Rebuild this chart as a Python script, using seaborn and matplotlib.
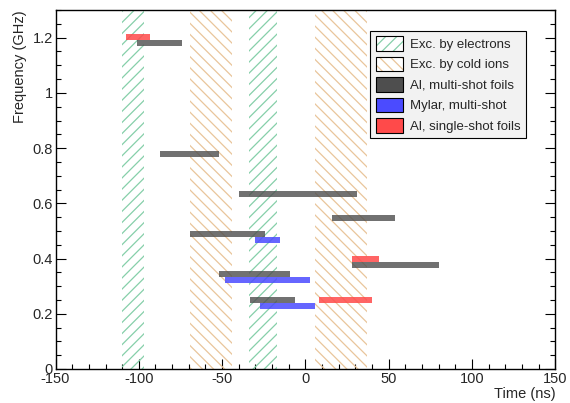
import numpy as np
import matplotlib
matplotlib.use('Agg')
import matplotlib.pyplot as plt
import seaborn as sns
from matplotlib.patches import Patch
from matplotlib.legend_handler import HandlerTuple
from matplotlib.ticker import MultipleLocator

# time windows (ns) of the excitation bands
elec_start = [-110, -34]
elec_end = [-97, -17]
ion_start = [-69, 6]
ion_end = [-44, 37]

# Al, multi-shot foils
al_multi_start = [-101, -87, -40, 16, -69, 28, -52, -33]
al_multi_end = [-74, -52, 31, 54, -24, 80, -9, -6]
al_multi_freq = [1.182, 0.779, 0.635, 0.548, 0.488, 0.378, 0.343, 0.249]

# Mylar, multi-shot
mylar_start = [-30, -48, -27]
mylar_end = [-15, 3, 6]
mylar_freq = [0.468, 0.323, 0.228]

# Al, single-shot foils
al_single_start = [-108, 28, 8]
al_single_end = [-93, 44, 40]
al_single_freq = [1.203, 0.398, 0.249]

bar_h = 0.022

sns.set_style('ticks')
plt.rcParams['font.family'] = ['Liberation Sans', 'DejaVu Sans']
plt.rcParams['hatch.linewidth'] = 0.9
plt.rcParams['axes.unicode_minus'] = False

fig = plt.figure(figsize=(5.7, 4.03), dpi=100)
ax = fig.add_axes([0.0974, 0.0844, 0.877, 0.8906])

green = '#86cfa9'
orange = '#e9c59b'
grey = '#4e4e4e'
blue = '#4b4bff'
red = '#ff4a4a'

for s, e in zip(elec_start, elec_end):
    ax.axvspan(s, e, fill=False, edgecolor=green, lw=0, hatch='///')
for s, e in zip(ion_start, ion_end):
    ax.axvspan(s, e, fill=False, edgecolor=orange, lw=0, hatch='\\\\\\')

def draw(starts, ends, freqs, color, alpha):
    starts = np.array(starts)
    ends = np.array(ends)
    ax.barh(freqs, ends - starts, left=starts, height=bar_h,
            color=color, alpha=alpha, lw=0)

draw(al_multi_start, al_multi_end, al_multi_freq, grey, 0.8)
draw(mylar_start, mylar_end, mylar_freq, blue, 0.85)
draw(al_single_start, al_single_end, al_single_freq, red, 0.85)

ax.set_xlim(-150, 150)
ax.set_ylim(0, 1.3)
ax.xaxis.set_major_locator(MultipleLocator(50))
ax.xaxis.set_minor_locator(MultipleLocator(10))
ax.yaxis.set_minor_locator(MultipleLocator(0.05))
ax.set_yticks([0, 0.2, 0.4, 0.6, 0.8, 1.0, 1.2])
ax.set_yticklabels(['0', '0.2', '0.4', '0.6', '0.8', '1', '1.2'])
ax.tick_params(which='both', direction='in', top=False, right=True,
               labelsize=10.5, color='black', width=0.8)
ax.tick_params(which='major', length=7, pad=2)
ax.tick_params(which='minor', length=3.5)
for sp in ax.spines.values():
    sp.set_color('black')
    sp.set_linewidth(1)

ax.set_xlabel('Time (ns)', fontsize=10.5, loc='right', labelpad=1)
ax.set_ylabel('Frequency (GHz)', fontsize=10.5, loc='top', labelpad=4)

box = lambda: Patch(fill=False, edgecolor='black', lw=0.8)
handles = [
    (Patch(facecolor='white', edgecolor=green, hatch='///', lw=0), box()),
    (Patch(facecolor='white', edgecolor=orange, hatch='\\\\\\', lw=0), box()),
    Patch(facecolor=grey, edgecolor='black', lw=0.8),
    Patch(facecolor=blue, edgecolor='black', lw=0.8),
    Patch(facecolor=red, edgecolor='black', lw=0.8),
]
labels = ['Exc. by electrons', 'Exc. by cold ions', 'Al, multi-shot foils',
          'Mylar, multi-shot', 'Al, single-shot foils']
leg = ax.legend(handles, labels, loc='upper right', bbox_to_anchor=(0.941, 0.942),
                borderaxespad=0, fancybox=False, framealpha=1, edgecolor='black',
                facecolor='#f2f2f2', fontsize=9.5, handlelength=2.1,
                handleheight=1.3, labelspacing=0.45, handletextpad=0.5,
                borderpad=0.4,
                handler_map={tuple: HandlerTuple(ndivide=1, pad=0)})
leg.get_frame().set_linewidth(0.8)

fig.savefig('out.png', dpi=100)
